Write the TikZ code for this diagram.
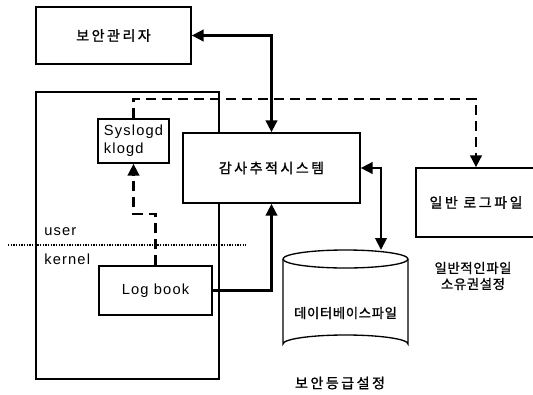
\documentclass[tikz,border=0pt]{standalone}
\usepackage{fontspec}
\setmainfont{Liberation Sans}[LetterSpace=8]
\newfontfamily\kr{Noto Sans CJK KR}[LetterSpace=18,FakeBold=1.2]
\newfontfamily\krn{Noto Sans CJK KR}[LetterSpace=5,FakeBold=1.2]
\usetikzlibrary{arrows.meta}
\begin{document}
\begin{tikzpicture}[x=0.75pt,y=-0.75pt,
  box/.style={draw, line width=1pt, fill=white, inner sep=0pt},
  tip/.tip={Triangle[width=8.5pt,length=9pt]},
  arr/.style={line width=2.2pt, -tip},
  darr/.style={line width=2.2pt, tip-tip},
  dsh/.style={line width=2.2pt, dash pattern=on 7.5pt off 4.5pt, -tip},
  krf/.style={font=\kr\fontsize{10.5}{13}\selectfont},
  krs/.style={font=\krn\fontsize{10}{12}\selectfont},
  lat/.style={font=\fontsize{11}{13.5}\selectfont}]
\useasboundingbox (0,0) rectangle (533,394);
\clip (0,0) rectangle (533,394);
% boxes
\node[box, krf, minimum width=116.25pt, minimum height=42.75pt] (adm) at (113.5,35.5) {보안관리자};
\node[box, minimum width=137.25pt, minimum height=215.25pt] (outer) at (127.5,235.5) {};
\node[box, lat, align=left, minimum width=53.25pt, minimum height=33pt] (sys) at (133.5,141) {Syslogd\\klogd};
\node[box, krf, minimum width=132.75pt, minimum height=52.5pt] (audit) at (271.5,168) {감사추적시스템};
\node[box, lat, minimum width=84.75pt, minimum height=36.75pt] (log) at (155.5,290.5) {Log book};
\node[box, krf, minimum width=90pt, minimum height=51.75pt] (gen) at (476,202.5) {일반 로그파일};
% cylinder
\draw[line width=1pt, fill=white] (283,259) arc[start angle=180, end angle=360, x radius=62.5, y radius=9]
  -- (408,344) arc[start angle=0, end angle=-180, x radius=62.5, y radius=9] -- cycle;
\draw[line width=1pt] (283,259) arc[start angle=180, end angle=0, x radius=62.5, y radius=9];
\node[krs, inner sep=0pt] (db) at (345.5,313) {데이터베이스파일};
\coordinate (dbtop) at (381,250);
% texts
\node[lat, anchor=west, inner sep=0pt] (user) at (44,232) {user};
\node[lat, anchor=west, inner sep=0pt] (kernel) at (44,259) {kernel};
\node[krs, align=center, inner sep=0pt] (own) at (473,276) {일반적인파일\\소유권설정};
\node[krf, inner sep=0pt] (sec) at (340,383) {보안등급설정};
% dotted separator
\coordinate (dl) at (8,245);
\coordinate (dr) at (246,245);
\draw[line width=1.3pt, dash pattern=on 1pt off 1pt] (dl) -- (dr);
% connectors
\draw[darr] (adm.east) -| (audit.north);
\draw[arr] (log.east) -| (audit.south);
\draw[darr] (audit.east) -| (dbtop);
\coordinate (dk) at (0,214);
\draw[dsh] (log.north) -- (log.north |- dk) -- (sys.south |- dk) -- (sys.south);
\coordinate (dt) at (0,99);
\draw[dsh] (sys.north) -- (sys.north |- dt) -- (gen.north |- dt) -- (gen.north);
\end{tikzpicture}
\end{document}
